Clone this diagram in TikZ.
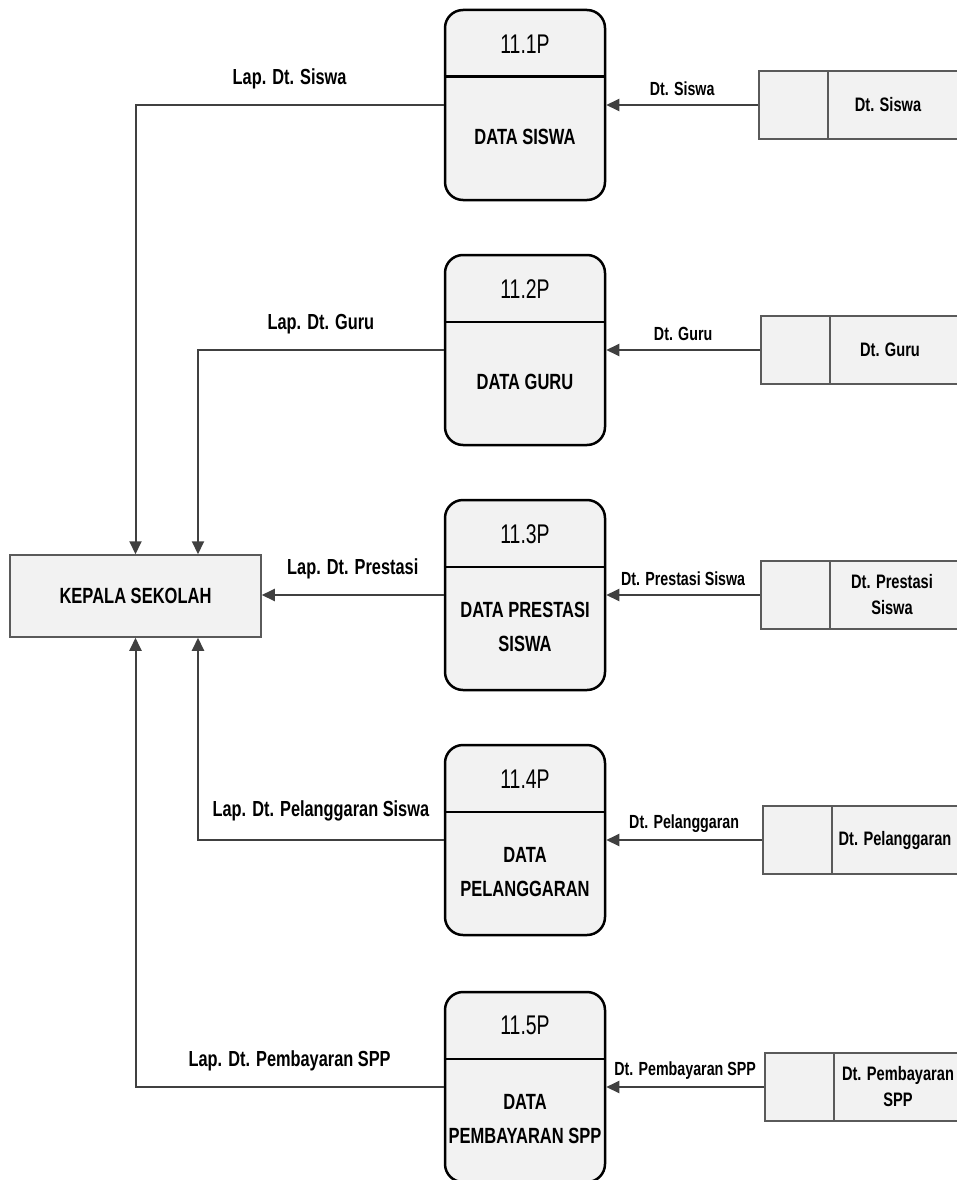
\documentclass[tikz,border=0pt]{standalone}
\usepackage{fontspec}
\setmainfont{Liberation Sans}[FakeStretch=0.75]
\newfontfamily\numfont{Liberation Sans}[FakeStretch=0.72]
\usetikzlibrary{arrows.meta,positioning}
\definecolor{boxfill}{HTML}{F2F2F2}
\definecolor{flowgray}{HTML}{404040}
\definecolor{storegray}{HTML}{5A5A5A}

\tikzset{
  proc/.style={draw=black, line width=2.5pt, fill=boxfill, rounded corners=18pt,
    minimum width=160pt, minimum height=190pt, inner sep=0pt},
  store/.style={draw=storegray, line width=1.5pt, fill=boxfill, anchor=west,
    minimum width=230pt, minimum height=68pt, inner sep=0pt},
  entity/.style={draw=storegray, line width=1.5pt, fill=boxfill,
    minimum width=251pt, minimum height=82pt, font=\bfseries\fontsize{22}{26}\selectfont},
  flow/.style={draw=flowgray, line width=2pt, -{Triangle[length=13pt,width=12pt]}},
  procnum/.style={font=\numfont\fontsize{27}{30}\selectfont},
  proctext/.style={font=\bfseries\fontsize{22}{34}\selectfont, align=center},
  storetext/.style={font=\bfseries\fontsize{19.5}{26}\selectfont, align=center},
  inlabel/.style={font=\bfseries\fontsize{19}{24}\selectfont, midway, yshift=16pt},
  outlabel/.style={font=\bfseries\fontsize{21.8}{26}\selectfont, midway, yshift=26pt},
}

\begin{document}
\begin{tikzpicture}[x=1pt, y=-1pt]
    \useasboundingbox (0,0) rectangle (956,1180);

    % Processes
    \node[proc] (p1) at (525,105) {};
    \node[proc] (p2) at (525,350) {};
    \node[proc] (p3) at (525,595) {};
    \node[proc] (p4) at (525,840) {};
    \node[proc] (p5) at (525,1087) {};
    \draw[line width=2.5pt] ([yshift=-68pt]p1.north west) -- ([yshift=-68pt]p1.north east);
    \draw[line width=2.5pt] ([yshift=-68pt]p2.north west) -- ([yshift=-68pt]p2.north east);
    \draw[line width=2.5pt] ([yshift=-68pt]p3.north west) -- ([yshift=-68pt]p3.north east);
    \draw[line width=2.5pt] ([yshift=-68pt]p4.north west) -- ([yshift=-68pt]p4.north east);
    \draw[line width=2.5pt] ([yshift=-68pt]p5.north west) -- ([yshift=-68pt]p5.north east);
    \node[procnum] (n1) at ([yshift=-35pt]p1.north) {11.1P};
    \node[procnum] (n2) at ([yshift=-35pt]p2.north) {11.2P};
    \node[procnum] (n3) at ([yshift=-35pt]p3.north) {11.3P};
    \node[procnum] (n4) at ([yshift=-35pt]p4.north) {11.4P};
    \node[procnum] (n5) at ([yshift=-35pt]p5.north) {11.5P};
    \node[proctext] (t1) at ([yshift=-128pt]p1.north) {DATA SISWA};
    \node[proctext] (t2) at ([yshift=-128pt]p2.north) {DATA GURU};
    \node[proctext] (t3) at ([yshift=-128pt]p3.north) {DATA PRESTASI\\SISWA};
    \node[proctext] (t4) at ([yshift=-128pt]p4.north) {DATA\\PELANGGARAN};
    \node[proctext] (t5) at ([yshift=-128pt]p5.north) {DATA\\PEMBAYARAN SPP};

    % Data stores
    \node[store] (s1) at (758,105) {};
    \node[store] (s2) at (760,350) {};
    \node[store] (s3) at (760,595) {};
    \node[store] (s4) at (762,840) {};
    \node[store] (s5) at (764,1087) {};
    \draw[storegray, line width=1.5pt] ([xshift=70pt]s1.north west) -- ([xshift=70pt]s1.south west);
    \draw[storegray, line width=1.5pt] ([xshift=70pt]s2.north west) -- ([xshift=70pt]s2.south west);
    \draw[storegray, line width=1.5pt] ([xshift=70pt]s3.north west) -- ([xshift=70pt]s3.south west);
    \draw[storegray, line width=1.5pt] ([xshift=70pt]s4.north west) -- ([xshift=70pt]s4.south west);
    \draw[storegray, line width=1.5pt] ([xshift=70pt]s5.north west) -- ([xshift=70pt]s5.south west);
    \node[storetext] (st1) at (888,105) {Dt. Siswa};
    \node[storetext] (st2) at (890,350) {Dt. Guru};
    \node[storetext] (st3) at (892,595) {Dt. Prestasi\\Siswa};
    \node[storetext] (st4) at (895,840) {Dt. Pelanggaran};
    \node[storetext] (st5) at (898,1087) {Dt. Pembayaran\\SPP};

    % External entity
    \node[entity] (kepala) at (135.5,596) {KEPALA SEKOLAH};
    \coordinate (kin) at ([xshift=62.5pt]kepala.north);
    \coordinate (kout) at ([xshift=62.5pt]kepala.south);

    % Flows from the stores
    \draw[flow] (s1.west) -- node[inlabel] {Dt. Siswa} (p1.east);
    \draw[flow] (s2.west) -- node[inlabel] {Dt. Guru} (p2.east);
    \draw[flow] (s3.west) -- node[inlabel] {Dt. Prestasi Siswa} (p3.east);
    \draw[flow] (s4.west) -- node[inlabel] {Dt. Pelanggaran} (p4.east);
    \draw[flow] (s5.west) -- node[inlabel] {Dt. Pembayaran SPP} (p5.east);

    % Reports to the head of school
    \draw[flow] (p1.west) -- node[outlabel] {Lap. Dt. Siswa} (p1.west -| kepala.north) -- (kepala.north);
    \draw[flow] (p2.west) -- node[outlabel] {Lap. Dt. Guru} (p2.west -| kin) -- (kin);
    \draw[flow] (p3.west) -- node[outlabel] {Lap. Dt. Prestasi} (p3.west -| kepala.east);
    \draw[flow] (p4.west) -- node[outlabel, yshift=3pt] {Lap. Dt. Pelanggaran Siswa} (p4.west -| kout) -- (kout);
    \draw[flow] (p5.west) -- node[outlabel] {Lap. Dt. Pembayaran SPP} (p5.west -| kepala.south) -- (kepala.south);
\end{tikzpicture}
\end{document}
